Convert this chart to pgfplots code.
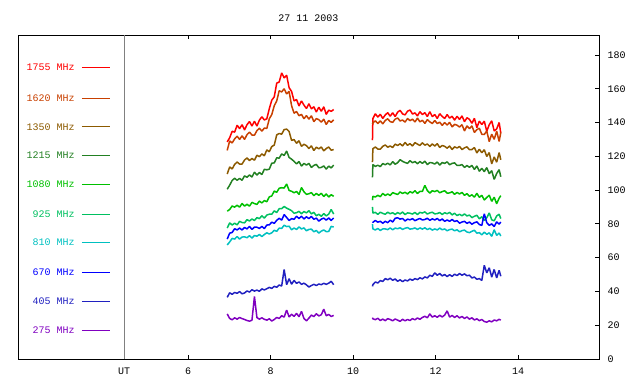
\documentclass[border=0pt]{standalone}
\usepackage{fontspec}
\setmainfont{Liberation Mono}
\usepackage{pgfplots}
\pgfplotsset{compat=1.18}
\usepackage{pgfplotstable}
\definecolor{cA}{RGB}{255,0,0}
\definecolor{cB}{RGB}{200,64,0}
\definecolor{cC}{RGB}{140,90,0}
\definecolor{cD}{RGB}{34,128,34}
\definecolor{cE}{RGB}{0,192,0}
\definecolor{cF}{RGB}{0,192,96}
\definecolor{cG}{RGB}{0,192,192}
\definecolor{cH}{RGB}{0,0,255}
\definecolor{cI}{RGB}{32,32,192}
\definecolor{cJ}{RGB}{128,0,192}
% a=1755 b=1620 c=1350 d=1215 e=1080 f=925 g=810 h=670 i=405 j=275 MHz
\pgfplotstableread{
x a b c d e f g h i j
6.95 128.5 123.5 109.5 100.5 87.5 77.5 67.5 71.0 36.5 26.7
7.01 131.0 129.1 113.7 102.9 88.5 80.6 69.3 74.5 39.2 24.0
7.07 134.8 127.9 112.5 105.7 90.6 79.3 71.4 74.9 38.3 23.2
7.13 134.3 130.3 115.2 107.0 89.9 80.4 71.0 77.1 39.4 24.4
7.19 138.4 131.9 116.6 105.8 91.0 79.4 72.5 76.4 38.9 23.6
7.25 136.4 130.0 115.4 106.9 89.9 81.5 71.0 77.5 39.9 24.6
7.31 138.7 132.1 115.4 105.8 92.1 80.8 72.2 76.4 38.6 23.9
7.37 135.6 130.0 117.8 108.4 90.5 80.6 72.3 77.9 39.1 23.4
7.43 138.7 132.8 119.0 107.6 91.6 82.5 71.8 77.0 40.3 22.8
7.49 140.6 134.3 117.5 109.0 90.5 81.7 73.0 78.5 39.6 22.4
7.55 137.9 132.6 118.7 107.7 92.7 82.9 71.6 76.7 41.0 23.0
7.61 140.8 132.5 117.7 110.6 92.0 82.0 73.1 78.1 40.2 37.0
7.67 137.9 135.2 120.6 108.9 91.5 83.7 72.7 78.0 40.8 24.5
7.73 141.4 136.6 119.8 110.4 93.5 83.1 73.7 77.3 40.1 23.6
7.79 143.4 134.9 121.4 109.2 92.4 84.8 72.5 78.5 41.5 24.4
7.85 141.5 136.7 120.3 112.3 93.8 83.4 73.7 77.2 40.9 23.5
7.91 142.2 136.5 123.8 112.0 93.1 85.2 74.7 79.3 41.6 23.0
7.97 148.2 142.2 122.7 112.4 96.0 85.7 74.0 79.4 42.4 23.8
8.03 153.2 144.7 125.8 115.9 96.5 85.7 74.7 81.0 41.8 22.5
8.09 155.2 149.9 126.6 116.1 99.4 87.7 76.2 80.3 43.0 23.4
8.15 163.3 152.8 132.7 119.1 98.7 86.7 75.6 82.1 42.5 24.6
8.21 164.0 158.8 133.5 118.9 101.1 89.0 77.5 83.3 43.8 24.0
8.27 169.4 158.1 133.1 121.4 101.4 89.0 77.3 82.2 43.2 25.6
8.33 166.4 160.0 135.8 120.5 101.2 90.3 79.2 85.5 53.0 24.8
8.39 168.0 156.9 136.1 123.1 103.6 89.3 78.4 83.8 44.0 29.0
8.45 160.6 158.4 134.7 119.3 99.8 88.6 78.6 82.0 47.5 24.9
8.51 158.4 150.0 129.4 118.3 99.3 87.8 76.5 83.1 44.3 26.5
8.57 152.8 145.5 129.9 117.0 98.4 86.3 77.5 82.7 46.5 25.2
8.63 153.6 146.5 127.7 115.5 99.2 86.6 76.7 84.5 44.8 27.0
8.69 149.8 144.0 129.2 116.9 97.4 87.4 78.2 83.2 45.6 25.0
8.75 152.8 144.8 125.9 114.2 101.5 86.0 77.0 84.5 44.2 28.2
8.81 150.3 142.2 127.1 115.8 99.0 87.3 77.6 82.9 44.9 24.0
8.87 148.3 144.1 126.3 114.8 97.5 86.5 75.9 84.2 43.9 22.6
8.93 151.1 142.0 124.6 115.8 97.8 87.8 76.7 83.1 42.6 24.2
8.99 148.1 144.0 126.2 113.4 98.5 85.9 76.9 84.4 43.5 26.0
9.05 149.3 140.5 123.4 114.6 96.7 86.8 75.3 82.7 44.2 25.1
9.11 146.2 142.3 125.4 115.2 98.0 84.8 76.1 83.4 43.5 26.8
9.17 149.1 141.7 124.4 113.2 96.9 85.7 74.5 81.6 44.4 25.5
9.23 146.6 140.2 125.5 113.4 98.1 84.5 75.7 82.8 44.0 26.2
9.29 149.3 142.0 123.2 114.3 96.2 86.1 76.4 83.4 44.8 29.5
9.35 144.8 138.8 124.6 112.4 97.7 84.7 75.4 82.2 44.2 25.6
9.41 147.3 141.2 125.5 114.2 95.9 85.8 75.5 83.5 44.9 26.4
9.47 146.6 140.1 123.6 113.1 97.3 88.5 78.5 82.0 46.0 25.2
9.53 147.7 141.6 124.0 114.8 96.3 85.8 78.1 83.5 44.0 25.8
10.0 nan nan nan nan nan nan nan nan nan nan
10.47 129.5 139.0 116.5 107.5 94.0 90.0 79.8 81.0 43.0 24.5
10.48 142.3 139.8 124.5 115.1 96.3 86.4 77.0 80.9 44.0 23.8
10.54 145.2 141.0 125.5 114.0 95.9 86.8 76.4 82.0 45.6 23.3
10.60 143.2 139.4 124.3 114.7 96.9 85.6 77.3 81.0 45.0 24.1
10.66 144.9 141.0 124.2 113.9 96.1 86.9 76.1 81.5 46.4 22.8
10.72 142.4 139.2 125.9 115.7 98.0 86.2 77.0 80.4 45.9 23.6
10.78 144.5 141.2 126.7 115.0 96.8 85.7 77.0 81.5 47.6 22.7
10.84 145.8 142.2 125.4 115.9 97.7 86.9 76.6 80.7 46.9 23.9
10.90 143.7 140.5 126.1 114.9 96.8 86.0 77.6 82.2 47.8 23.4
10.96 145.8 140.1 125.2 116.8 98.5 86.6 76.5 81.1 46.6 22.6
11.02 143.5 142.0 127.2 115.3 97.9 85.6 77.5 83.3 47.4 23.7
11.08 146.1 142.7 126.4 116.2 97.4 86.7 77.1 83.6 46.0 23.0
11.14 147.2 140.9 127.4 118.0 98.9 85.9 77.7 82.8 46.9 22.3
11.20 145.1 141.5 126.1 117.0 98.0 87.0 76.7 83.2 45.8 23.5
11.26 144.5 140.2 128.2 116.3 98.7 85.5 77.4 81.7 46.8 22.6
11.32 146.7 142.4 126.5 115.8 97.7 86.5 77.8 82.8 46.2 23.4
11.38 147.4 141.1 127.5 117.4 99.1 86.3 76.9 82.4 47.3 22.8
11.44 145.0 142.0 126.1 116.2 98.3 85.8 77.1 83.1 46.6 23.9
11.50 145.7 140.3 128.1 116.9 99.6 86.8 77.6 81.9 47.6 23.2
11.56 143.9 142.6 127.2 115.6 98.0 85.5 76.7 82.6 47.0 24.3
11.62 146.4 140.4 126.4 116.9 99.2 86.8 77.6 83.2 48.1 23.5
11.68 144.7 141.3 128.0 115.8 99.2 86.4 76.9 82.3 47.4 24.6
11.74 145.8 139.5 126.6 117.1 102.8 87.1 77.7 82.6 48.6 25.3
11.80 143.5 141.7 127.3 115.1 99.7 85.8 76.6 83.3 48.0 24.4
11.86 146.4 140.4 125.8 116.3 98.2 86.5 77.4 82.1 49.6 26.7
11.92 143.5 139.4 127.3 116.1 99.6 86.9 76.3 83.0 48.9 24.8
11.98 144.7 141.2 126.1 115.4 99.1 85.9 77.0 82.3 51.0 25.6
12.04 142.4 139.4 127.5 116.6 99.8 86.1 76.4 83.2 49.6 24.7
12.10 145.2 140.2 125.2 114.8 98.4 86.7 77.5 81.9 50.6 25.9
12.16 143.6 138.3 126.4 116.3 99.1 85.6 76.5 82.9 49.2 24.9
12.22 142.4 140.0 125.9 115.8 99.6 86.6 77.0 81.5 50.0 26.0
12.28 144.7 138.5 124.8 116.7 98.2 86.0 75.9 82.3 48.8 28.5
12.34 142.6 140.1 126.1 115.0 98.3 86.8 76.6 81.5 49.9 24.8
12.40 143.7 137.4 124.0 115.8 99.0 85.3 76.9 82.6 48.9 25.8
12.46 141.4 138.9 125.6 116.1 97.5 86.3 75.9 81.4 50.2 24.6
12.52 143.7 138.4 124.9 114.6 98.6 84.9 76.5 81.9 49.4 25.6
12.58 141.8 137.3 125.8 114.6 97.7 85.7 75.3 80.4 50.6 24.3
12.64 143.9 138.7 124.0 115.1 98.6 84.8 76.0 81.1 49.6 25.2
12.70 140.5 135.0 125.0 113.4 96.9 85.9 76.3 81.5 50.4 24.0
12.76 142.8 138.0 125.6 114.5 97.9 84.7 75.2 80.3 49.3 24.9
12.82 141.9 136.4 123.9 113.5 96.3 85.2 74.8 81.1 49.6 23.6
12.88 139.5 138.0 124.0 114.6 97.2 83.7 75.6 79.8 48.0 24.4
12.94 142.5 134.1 125.2 112.2 95.8 84.5 76.2 80.7 48.5 23.1
13.00 137.0 135.8 122.0 114.3 98.1 85.1 74.5 81.2 47.2 23.8
13.06 140.8 136.6 124.2 111.1 95.7 83.0 74.8 79.6 47.6 22.7
13.12 138.8 133.0 122.1 112.9 96.9 84.2 73.5 79.1 46.5 23.4
13.18 140.8 132.9 123.9 110.9 94.1 82.0 75.1 86.0 55.5 22.2
13.24 134.8 135.0 119.9 113.3 95.6 83.6 73.8 80.7 51.0 21.8
13.30 138.7 128.7 122.2 109.7 97.0 86.5 74.7 79.1 54.0 22.6
13.36 141.0 133.1 115.5 111.5 93.3 82.4 72.6 80.0 48.5 22.0
13.42 135.0 130.0 119.6 106.3 95.8 81.8 76.5 78.4 53.0 23.1
13.48 136.2 134.9 116.5 109.8 91.9 84.7 73.2 81.2 48.0 22.6
13.54 140.0 128.8 122.2 112.1 95.2 85.7 74.6 79.8 52.5 23.5
13.58 133.7 134.1 117.9 107.9 96.7 83.1 72.8 81.1 49.0 23.0
}\data
\newcommand\lf{\fontsize{10}{12}\selectfont}
\begin{document}
\begin{tikzpicture}
\begin{axis}[
  scale only axis, width=581pt, height=324pt,
  xmin=1.88, xmax=15.96, ymin=0, ymax=191.8,
  xtick={6,8,10,12,14}, ytick={0,20,...,180},
  xtick pos=both, ytick pos=right, yticklabel pos=right, xticklabel pos=bottom,
  tick align=inside, major tick length=4pt,
  tick style={black, line width=0.8pt},
  axis line style={black, line width=1pt},
  ticklabel style={font=\lf},
  /pgf/number format/assume math mode=true,
  xticklabel style={yshift=-5pt},
  yticklabel style={xshift=5pt},
  extra x ticks={4.45}, extra x tick labels={UT},
  extra x tick style={grid=major, major grid style={gray, line width=0.8pt}, major tick length=0pt},
  title={27 11 2003}, title style={font=\lf, yshift=4pt},
  unbounded coords=jump,
  every axis plot/.append style={line width=1.5pt, line join=bevel, no marks},
]
\addplot[cA] table[x=x,y=a]{\data};
\addplot[cB] table[x=x,y=b]{\data};
\addplot[cC] table[x=x,y=c]{\data};
\addplot[cD] table[x=x,y=d]{\data};
\addplot[cE] table[x=x,y=e]{\data};
\addplot[cF] table[x=x,y=f]{\data};
\addplot[cG] table[x=x,y=g]{\data};
\addplot[cH] table[x=x,y=h]{\data};
\addplot[cI] table[x=x,y=i]{\data};
\addplot[cJ] table[x=x,y=j]{\data};
\node[anchor=east, text=cA, font=\lf] at (axis cs:3.34,172.5) {1755 MHz};
\draw[cA, line width=1pt] (axis cs:3.43,172.5) -- (axis cs:4.11,172.5);
\node[anchor=east, text=cB, font=\lf] at (axis cs:3.34,154.5) {1620 MHz};
\draw[cB, line width=1pt] (axis cs:3.43,154.5) -- (axis cs:4.11,154.5);
\node[anchor=east, text=cC, font=\lf] at (axis cs:3.34,137.4) {1350 MHz};
\draw[cC, line width=1pt] (axis cs:3.43,137.4) -- (axis cs:4.11,137.4);
\node[anchor=east, text=cD, font=\lf] at (axis cs:3.34,120.4) {1215 MHz};
\draw[cD, line width=1pt] (axis cs:3.43,120.4) -- (axis cs:4.11,120.4);
\node[anchor=east, text=cE, font=\lf] at (axis cs:3.34,103.2) {1080 MHz};
\draw[cE, line width=1pt] (axis cs:3.43,103.2) -- (axis cs:4.11,103.2);
\node[anchor=east, text=cF, font=\lf] at (axis cs:3.34,85.8) {925 MHz};
\draw[cF, line width=1pt] (axis cs:3.43,85.8) -- (axis cs:4.11,85.8);
\node[anchor=east, text=cG, font=\lf] at (axis cs:3.34,68.9) {810 MHz};
\draw[cG, line width=1pt] (axis cs:3.43,68.9) -- (axis cs:4.11,68.9);
\node[anchor=east, text=cH, font=\lf] at (axis cs:3.34,51.5) {670 MHz};
\draw[cH, line width=1pt] (axis cs:3.43,51.5) -- (axis cs:4.11,51.5);
\node[anchor=east, text=cI, font=\lf] at (axis cs:3.34,34.2) {405 MHz};
\draw[cI, line width=1pt] (axis cs:3.43,34.2) -- (axis cs:4.11,34.2);
\node[anchor=east, text=cJ, font=\lf] at (axis cs:3.34,17.0) {275 MHz};
\draw[cJ, line width=1pt] (axis cs:3.43,17.0) -- (axis cs:4.11,17.0);
\end{axis}
\pgfresetboundingbox
\path[use as bounding box] (-18pt,-25pt) rectangle (622pt,359pt);
\end{tikzpicture}
\end{document}
